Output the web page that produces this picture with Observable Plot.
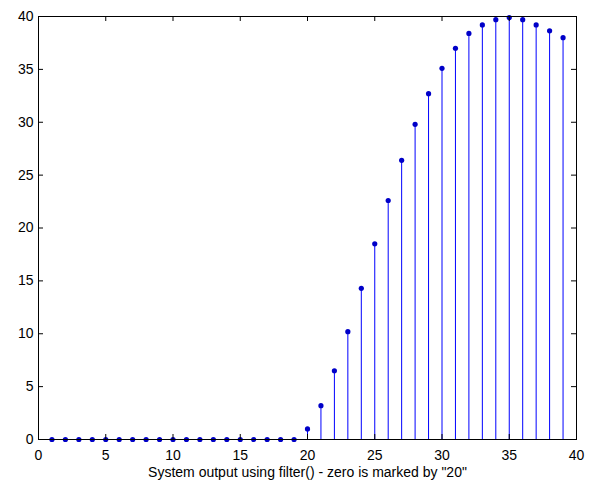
<!DOCTYPE html>
<html>
<head>
<meta charset="utf-8">
<script src="https://cdn.jsdelivr.net/npm/d3@7"></script>
<script src="https://cdn.jsdelivr.net/npm/@observablehq/plot@0.6"></script>
<style>
  html, body { margin: 0; padding: 0; background: #fff; }
  #chart svg { display: block; }
</style>
</head>
<body>
<div id="chart"></div>
<script>
const sampleIndex = d3.range(1, 40);
const outputValues = [
  0, 0, 0, 0, 0, 0, 0, 0, 0, 0, 0, 0, 0, 0, 0, 0, 0, 0, 0,
  1.0, 3.2, 6.5, 10.2, 14.3, 18.5, 22.6, 26.4, 29.8, 32.7, 35.1,
  37.0, 38.4, 39.2, 39.7, 39.9, 39.7, 39.2, 38.65, 38.0
];
const xTicks = [0, 5, 10, 15, 20, 25, 30, 35, 40];
const yTicks = [0, 5, 10, 15, 20, 25, 30, 35, 40];
const caption = 'System output using filter() - zero is marked by "20"';

const data = sampleIndex.map((n, i) => ({n, v: outputValues[i]}));

const W = 598, H = 489;
const mT = 16, mB = 50, mL = 38, mR = 22;
const frameH = H - mT - mB, frameW = W - mL - mR;
const tickLen = 5;
const font = '"Liberation Sans", Arial, sans-serif';

const chart = Plot.plot({
  width: W,
  height: H,
  marginTop: mT,
  marginBottom: mB,
  marginLeft: mL,
  marginRight: mR,
  style: {background: "#fff", fontFamily: font, fontSize: "14px", color: "#000"},
  x: {domain: [0, 40]},
  y: {domain: [0, 40]},
  marks: [
    Plot.ruleX(data, {x: "n", y1: 0, y2: "v", stroke: "#0000ff", strokeWidth: 1}),
    Plot.dot(data, {x: "n", y: "v", r: 2.6, fill: "#0000c8", stroke: "none"}),
    // inward ticks on all four sides
    Plot.tickX(xTicks, {x: d => d, insetTop: frameH - tickLen, stroke: "#000"}),
    Plot.tickX(xTicks, {x: d => d, insetBottom: frameH - tickLen, stroke: "#000"}),
    Plot.tickY(yTicks, {y: d => d, insetRight: frameW - tickLen, stroke: "#000"}),
    Plot.tickY(yTicks, {y: d => d, insetLeft: frameW - tickLen, stroke: "#000"}),
    Plot.axisX(xTicks, {tickSize: 0, tickPadding: 11, label: null, fontSize: 14, fill: "#000"}),
    Plot.axisY(yTicks, {tickSize: 0, tickPadding: 5, label: null, fontSize: 14, fill: "#000"}),
    Plot.frame({stroke: "#000"}),
    Plot.text([caption], {
      frameAnchor: "bottom", lineAnchor: "middle", dy: 33, text: d => d, fontSize: 14, fill: "#000"
    })
  ]
});
document.getElementById("chart").appendChild(chart);
</script>
</body>
</html>
